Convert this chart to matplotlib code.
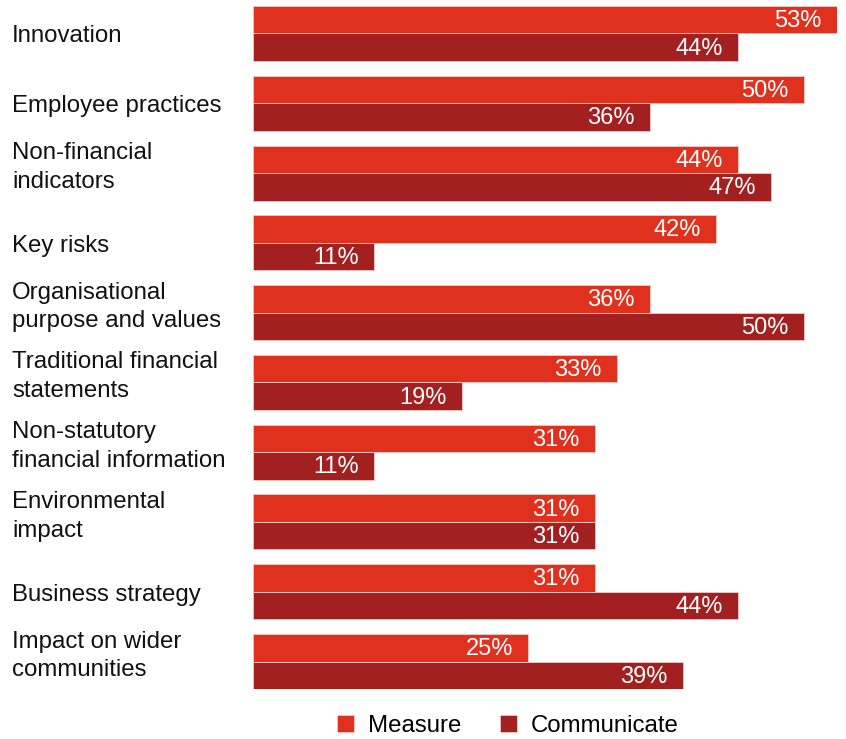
import numpy as np
import matplotlib.pyplot as plt

plt.rcParams['font.family'] = ['Liberation Sans', 'DejaVu Sans']

categories = [
    'Innovation',
    'Employee practices',
    'Non-financial\nindicators',
    'Key risks',
    'Organisational\npurpose and values',
    'Traditional financial\nstatements',
    'Non-statutory\nfinancial information',
    'Environmental\nimpact',
    'Business strategy',
    'Impact on wider\ncommunities',
]
measure = [53, 50, 44, 42, 36, 33, 31, 31, 31, 25]
communicate = [44, 36, 47, 11, 50, 19, 11, 31, 44, 39]
series_names = ['Measure', 'Communicate']

MEASURE_COLOR = '#E0301E'
COMMUNICATE_COLOR = '#A32020'
EDGE_COLOR = '#f2c9c4'

W, H = 846, 739
fig = plt.figure(figsize=(W / 100, H / 100), dpi=100)
ax = fig.add_axes([253 / W, 1 - 689 / H, (837 - 253) / W, (689 - 6) / H])

y = np.arange(len(categories))
h = 0.394
ax.barh(y - h / 2, measure, height=h, color=MEASURE_COLOR,
        edgecolor=EDGE_COLOR, linewidth=0.6, label=series_names[0])
ax.barh(y + h / 2, communicate, height=h, color=COMMUNICATE_COLOR,
        edgecolor=EDGE_COLOR, linewidth=0.6, label=series_names[1])

ax.set_xlim(0, 53)
ax.set_ylim(len(categories) - 1 + h, -h)

# value labels inside the bar ends
for yy, vals in ((y - h / 2, measure), (y + h / 2, communicate)):
    for yi, v in zip(yy, vals):
        ax.annotate(f'{v}%', (v, yi), xytext=(-11, -1), textcoords='offset points',
                    ha='right', va='center', color='white', fontsize=17)

ax.set_yticks(y)
ax.set_yticklabels([])
for yi, lab in zip(y, categories):
    ax.annotate(lab, (0, yi), xycoords=('figure fraction', 'data'),
                xytext=(12 * 0.72, 4 if '\n' in lab else -2), textcoords='offset points',
                ha='left', va='center', fontsize=17.3, color='#111111', linespacing=1.4)

ax.tick_params(left=False, bottom=False, labelbottom=False)
for s in ax.spines.values():
    s.set_visible(False)

handles, labels = ax.get_legend_handles_labels()
fig.legend(handles, labels, loc='center', bbox_to_anchor=(508 / W, 1 - 726 / H),
           ncol=2, frameon=False, fontsize=17.3, handlelength=0.7, handleheight=0.7,
           handletextpad=0.6, columnspacing=1.6, borderaxespad=0)

fig.savefig('out.png', dpi=100)
